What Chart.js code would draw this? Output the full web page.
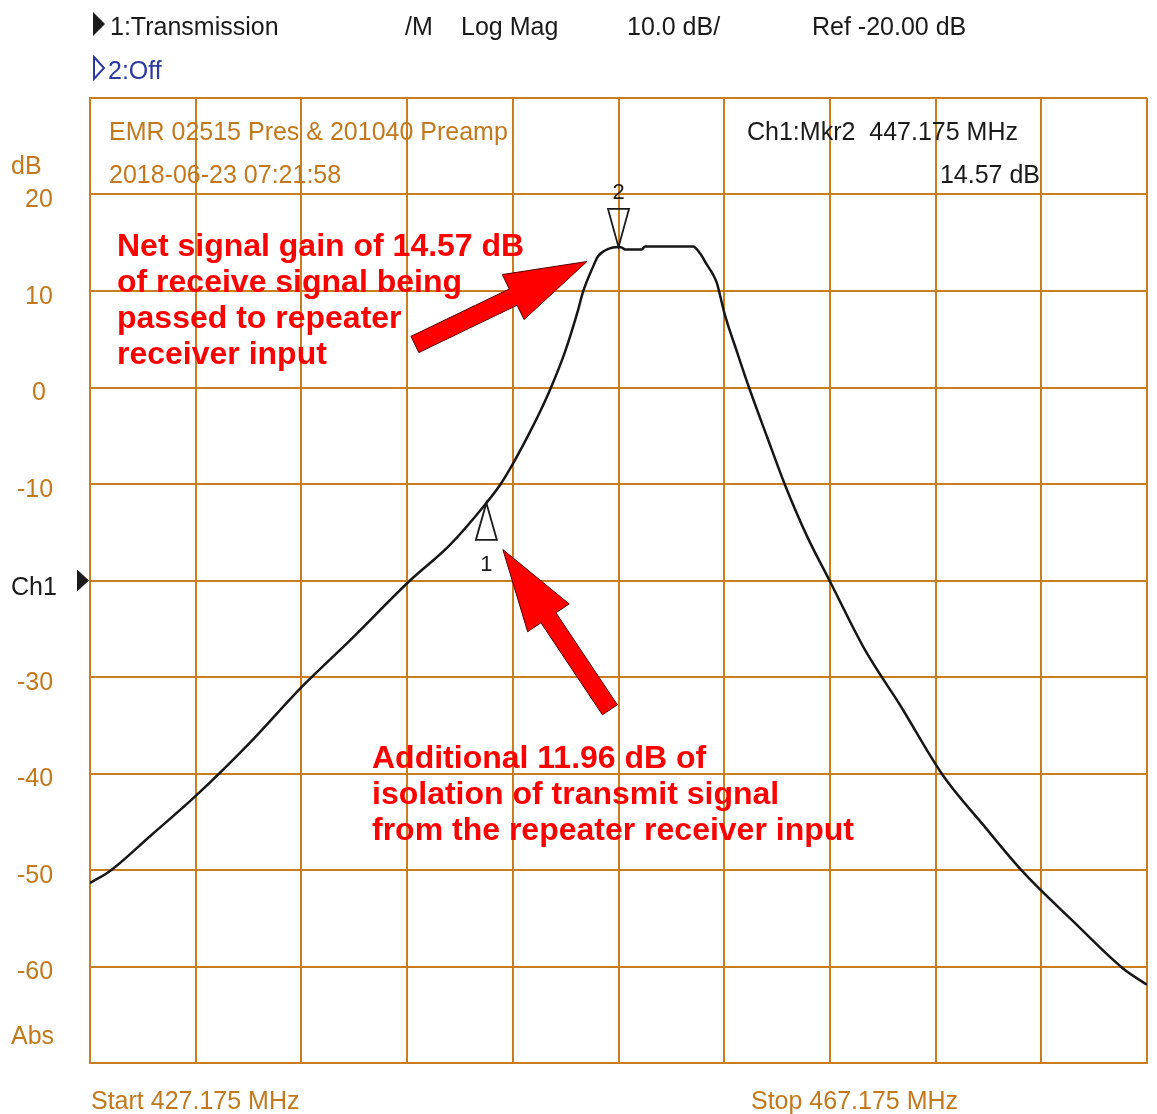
<!DOCTYPE html>
<html>
<head>
<meta charset="UTF-8">
<title>Transmission Log Mag</title>
<script src="https://cdn.jsdelivr.net/npm/chart.js@4.4.1/dist/chart.umd.min.js"></script>
<style>
  html, body { margin: 0; padding: 0; background: #fff; }
  #wrap { width: 1157px; height: 1114px; }
</style>
</head>
<body>
<div id="wrap"><canvas id="chart" width="1157" height="1114"></canvas></div>
<script>
// trace data (MHz, dB)
const freqs = [427.175, 427.932, 429.446, 431.186, 433.230, 435.198, 437.014, 439.285, 440.798, 442.175,
  442.691, 443.220, 443.826, 444.242, 444.621, 445.150, 445.642, 445.832, 446.210, 446.399,
  446.664, 446.956, 447.175, 447.307, 447.421, 448.053, 448.178, 449.994, 450.259, 450.524,
  450.713, 450.903, 450.978, 451.205, 451.659, 452.114, 452.795, 453.476, 454.308, 455.179,
  456.503, 457.828, 459.455, 460.969, 462.483, 464.375, 466.267, 467.175];
const gains = [-51.35, -50.1, -46.5, -42.3, -36.8, -31.0, -26.2, -20.0, -16.3, -11.96,
  -10.1, -7.7, -4.6, -2.3, 0, 3.7, 8.0, 9.9, 12.5, 13.6,
  14.2, 14.5, 14.57, 14.5, 14.3, 14.3, 14.6, 14.6, 13.9, 12.7,
  11.9, 10.8, 10.0, 7.5, 3.7, 0, -5.1, -10.1, -15.4, -20.1,
  -27.2, -32.9, -40.2, -45.3, -50.2, -55.3, -60.2, -61.9];

// grid divisions
const gridFreqs = [427.175, 431.175, 435.175, 439.175, 443.175, 447.175, 451.175, 455.175, 459.175, 463.175, 467.175];
const dbTicks = [20, 10, 0, -10, -30, -40, -50, -60];
const refLevel = -20;

// markers
const markerNames = ['1', '2'];
const markerFreqs = [442.175, 447.175];
const markerGains = [-11.96, 14.57];

// red arrows (data units)
const arrowTails = [[439.47, 4.46], [446.85, -33.4]];
const arrowTips = [[445.985, 13.06], [442.80, -16.8]];

const ORANGE = '#c97d1e';
const ORANGE_TXT = '#c4781c';
const FONT = '"Liberation Sans", Arial, sans-serif';

function tri(ctx, pts, fill) {
  ctx.beginPath();
  ctx.moveTo(pts[0][0], pts[0][1]);
  ctx.lineTo(pts[1][0], pts[1][1]);
  ctx.lineTo(pts[2][0], pts[2][1]);
  ctx.closePath();
  ctx.fillStyle = fill;
  ctx.fill();
}

function drawArrow(ctx, x0, y0, x1, y1) {
  const dx = x1 - x0, dy = y1 - y0;
  const len = Math.sqrt(dx * dx + dy * dy);
  const ux = dx / len, uy = dy / len;
  const nx = -uy, ny = ux;
  const headLen = 82, shaft = 9, head = 25;
  const bx = x1 - ux * headLen, by = y1 - uy * headLen;
  ctx.beginPath();
  ctx.moveTo(x0 + nx * shaft, y0 + ny * shaft);
  ctx.lineTo(bx + nx * shaft, by + ny * shaft);
  ctx.lineTo(bx + nx * head, by + ny * head);
  ctx.lineTo(x1, y1);
  ctx.lineTo(bx - nx * head, by - ny * head);
  ctx.lineTo(bx - nx * shaft, by - ny * shaft);
  ctx.lineTo(x0 - nx * shaft, y0 - ny * shaft);
  ctx.closePath();
  ctx.fillStyle = '#ff0000';
  ctx.fill();
  ctx.strokeStyle = '#5a0000';
  ctx.lineWidth = 1;
  ctx.stroke();
}

const analyzerText = {
  id: 'analyzerText',
  beforeDraw(chart) {
    const ctx = chart.ctx;
    ctx.save();
    ctx.fillStyle = '#fff';
    ctx.fillRect(0, 0, chart.width, chart.height);
    ctx.restore();
  },
  beforeDatasetsDraw(chart) {
    const ctx = chart.ctx;
    const y = chart.scales.y;
    ctx.save();
    ctx.textBaseline = 'middle';
    ctx.font = '25px ' + FONT;

    // header
    tri(ctx, [[93, 12], [105, 24], [93, 36]], '#1a1a1a');
    ctx.fillStyle = '#1a1a1a';
    ctx.textAlign = 'left';
    ctx.fillText('1:Transmission', 110, 28);
    ctx.fillText('/M', 405, 28);
    ctx.fillText('Log Mag', 461, 28);
    ctx.fillText('10.0 dB/', 627, 28);
    ctx.fillText('Ref -20.00 dB', 812, 28);
    ctx.strokeStyle = '#2b3aa0';
    ctx.lineWidth = 2;
    ctx.beginPath();
    ctx.moveTo(94, 57); ctx.lineTo(104, 68); ctx.lineTo(94, 79); ctx.closePath();
    ctx.stroke();
    ctx.fillStyle = '#2b3aa0';
    ctx.fillText('2:Off', 108, 72);

    // inside plot
    ctx.fillStyle = ORANGE_TXT;
    ctx.fillText('EMR 02515 Pres & 201040 Preamp', 109, 133);
    ctx.fillText('2018-06-23 07:21:58', 109, 176);
    ctx.fillStyle = '#1a1a1a';
    ctx.fillText('Ch1:Mkr2  447.175 MHz', 747, 133);
    ctx.textAlign = 'right';
    ctx.fillText('14.57 dB', 1040, 176);

    // left axis labels
    ctx.fillStyle = ORANGE_TXT;
    ctx.textAlign = 'center';
    dbTicks.forEach(v => {
      const py = y.getPixelForValue(v) + 6;
      ctx.fillText(String(v), v < 0 ? 35 : 39, py);
    });
    ctx.textAlign = 'left';
    ctx.fillText('dB', 11, 167);
    ctx.fillText('Abs', 11, 1037);
    ctx.fillText('Start 427.175 MHz', 91, 1102);
    ctx.fillText('Stop 467.175 MHz', 751, 1102);

    // reference level marker
    const ry = y.getPixelForValue(refLevel);
    tri(ctx, [[77, ry - 11], [89, ry], [77, ry + 11]], '#1a1a1a');
    ctx.fillStyle = '#1a1a1a';
    ctx.fillText('Ch1', 11, ry + 8);
    ctx.restore();
  },
  afterDraw(chart) {
    const ctx = chart.ctx;
    const x = chart.scales.x, y = chart.scales.y;
    ctx.save();

    // markers
    ctx.font = '22px ' + FONT;
    ctx.textAlign = 'center';
    ctx.textBaseline = 'middle';
    markerFreqs.forEach((f, i) => {
      const px = x.getPixelForValue(f), py = y.getPixelForValue(markerGains[i]);
      ctx.lineWidth = 1.8;
      ctx.strokeStyle = '#1a1a1a';
      ctx.beginPath();
      if (i === 0) {
        ctx.moveTo(px, py); ctx.lineTo(px + 10.5, py + 37); ctx.lineTo(px - 10.5, py + 37);
      } else {
        ctx.moveTo(px, py); ctx.lineTo(px + 10.5, py - 38); ctx.lineTo(px - 10.5, py - 38);
      }
      ctx.closePath();
      ctx.stroke();
      ctx.fillStyle = '#1a1a1a';
      ctx.fillText(markerNames[i], px, i === 0 ? py + 62 : py - 54);
    });

    // red arrows
    arrowTails.forEach((t, i) => {
      drawArrow(ctx, x.getPixelForValue(t[0]), y.getPixelForValue(t[1]),
        x.getPixelForValue(arrowTips[i][0]), y.getPixelForValue(arrowTips[i][1]));
    });

    // red notes
    ctx.fillStyle = '#ff0000';
    ctx.font = 'bold 32px ' + FONT;
    ctx.textAlign = 'left';
    ['Net signal gain of 14.57 dB', 'of receive signal being', 'passed to repeater', 'receiver input']
      .forEach((s, i) => ctx.fillText(s, 117, 247 + i * 36));
    ['Additional 11.96 dB of', 'isolation of transmit signal', 'from the repeater receiver input']
      .forEach((s, i) => ctx.fillText(s, 372, 759 + i * 36));
    ctx.restore();
  }
};

new Chart(document.getElementById('chart'), {
  type: 'line',
  data: {
    datasets: [{
      data: freqs.map((f, i) => ({ x: f, y: gains[i] })),
      borderColor: '#161616',
      borderWidth: 2.5,
      pointRadius: 0,
      cubicInterpolationMode: 'monotone',
      fill: false
    }]
  },
  options: {
    responsive: false,
    animation: false,
    devicePixelRatio: 1,
    layout: { padding: { left: 90, right: 10, top: 98, bottom: 51 } },
    plugins: { legend: { display: false }, tooltip: { enabled: false } },
    scales: {
      x: {
        type: 'linear',
        min: gridFreqs[0],
        max: gridFreqs[gridFreqs.length - 1],
        afterBuildTicks: s => { s.ticks = gridFreqs.map(v => ({ value: v })); },
        ticks: { display: false },
        grid: { color: ORANGE, lineWidth: 2, drawTicks: false, tickLength: 0 },
        border: { color: ORANGE, width: 2 }
      },
      y: {
        min: -70,
        max: 30,
        ticks: { display: false, stepSize: 10 },
        grid: { color: ORANGE, lineWidth: 2, drawTicks: false, tickLength: 0 },
        border: { color: ORANGE, width: 2 }
      }
    }
  },
  plugins: [analyzerText]
});
</script>
</body>
</html>
